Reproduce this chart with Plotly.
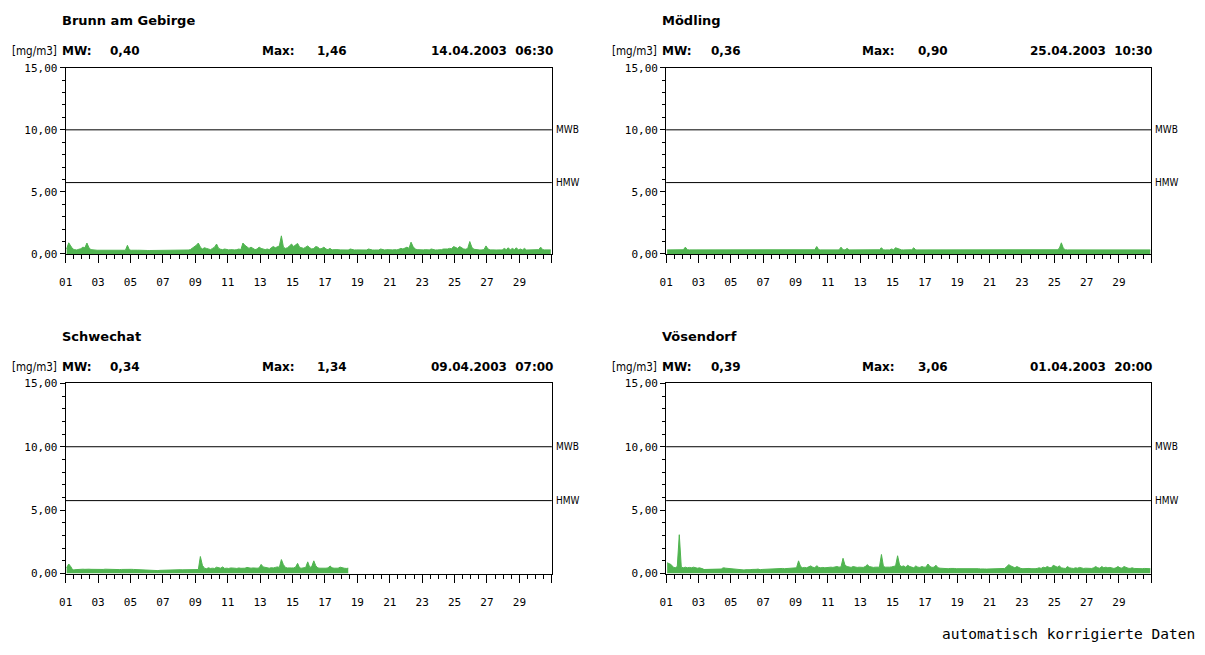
import plotly.graph_objects as go
import pandas as pd

W, H = 1205, 655

# ---------------- data ----------------
stations = ["Brunn am Gebirge", "Mödling", "Schwechat", "Vösendorf"]
mw_text = ["0,40", "0,36", "0,34", "0,39"]
max_text = ["1,46", "0,90", "1,34", "3,06"]
max_time = ["14.04.2003  06:30", "25.04.2003  10:30", "09.04.2003  07:00", "01.04.2003  20:00"]

mwb_level = 10.0
hmw_level = 5.75

y_tickvals = [0, 5, 10, 15]
y_ticktext = ["0,00", "5,00", "10,00", "15,00"]

x_ticklabels = ["01", "03", "05", "07", "09", "11", "13", "15", "17", "19", "21", "23", "25", "27", "29", ""]
x_tickdates = ["2003-04-01", "2003-04-03", "2003-04-05", "2003-04-07", "2003-04-09", "2003-04-11",
               "2003-04-13", "2003-04-15", "2003-04-17", "2003-04-19", "2003-04-21", "2003-04-23",
               "2003-04-25", "2003-04-27", "2003-04-29", "2003-05-01"]

# 3-hourly values (mg/m3), one row per day, April 2003
brunn = [
    0.40, 0.90, 0.65, 0.40, 0.35, 0.32, 0.38, 0.42,
    0.55, 0.50, 0.88, 0.50, 0.35, 0.32, 0.30, 0.30,
    0.30, 0.30, 0.28, 0.30, 0.30, 0.30, 0.30, 0.30,
    0.30, 0.28, 0.30, 0.30, 0.30, 0.30, 0.70, 0.32,
    0.30, 0.28, 0.28, 0.30, 0.30, 0.28, 0.28, 0.30,
    0.28, 0.28, 0.28, 0.30, 0.30, 0.30, 0.28, 0.28,
    0.28, 0.28, 0.28, 0.28, 0.30, 0.30, 0.28, 0.28,
    0.28, 0.28, 0.30, 0.30, 0.32, 0.35, 0.45, 0.55,
    0.70, 0.88, 0.55, 0.40, 0.50, 0.45, 0.40, 0.35,
    0.45, 0.55, 0.80, 0.45, 0.38, 0.35, 0.40, 0.35,
    0.33, 0.35, 0.32, 0.33, 0.35, 0.40, 0.35, 0.88,
    0.70, 0.60, 0.45, 0.55, 0.45, 0.35, 0.40, 0.55,
    0.45, 0.40, 0.35, 0.40, 0.35, 0.50, 0.60, 0.50,
    0.55, 0.65, 1.46, 0.55, 0.45, 0.50, 0.65, 0.80,
    0.60, 0.75, 0.85, 0.55, 0.50, 0.45, 0.55, 0.65,
    0.50, 0.40, 0.45, 0.60, 0.55, 0.40, 0.45, 0.55,
    0.40, 0.35, 0.45, 0.33, 0.35, 0.32, 0.35, 0.33,
    0.32, 0.35, 0.33, 0.32, 0.40, 0.33, 0.32, 0.33,
    0.32, 0.33, 0.35, 0.32, 0.32, 0.40, 0.33, 0.32,
    0.32, 0.33, 0.32, 0.40, 0.33, 0.32, 0.35, 0.33,
    0.32, 0.33, 0.35, 0.33, 0.38, 0.45, 0.40, 0.50,
    0.55, 0.45, 0.95, 0.60, 0.40, 0.35, 0.33, 0.32,
    0.33, 0.35, 0.32, 0.33, 0.40, 0.35, 0.32, 0.33,
    0.32, 0.35, 0.40, 0.38, 0.40, 0.45, 0.42, 0.60,
    0.55, 0.45, 0.60, 0.50, 0.40, 0.38, 0.45, 1.00,
    0.55, 0.38, 0.35, 0.33, 0.32, 0.33, 0.35, 0.65,
    0.40, 0.33, 0.35, 0.33, 0.32, 0.35, 0.33, 0.32,
    0.45, 0.35, 0.50, 0.33, 0.45, 0.35, 0.50, 0.33,
    0.40, 0.33, 0.45, 0.32, 0.33, 0.32, 0.35, 0.33,
    0.33, 0.35, 0.55, 0.35, 0.33, 0.32, 0.35, 0.33,
]

moedling = [
    0.33, 0.33, 0.34, 0.33, 0.33, 0.34, 0.33, 0.33,
    0.34, 0.55, 0.34, 0.33, 0.33, 0.33, 0.33, 0.33,
    0.33, 0.33, 0.33, 0.34, 0.33, 0.33, 0.33, 0.33,
    0.33, 0.33, 0.33, 0.33, 0.33, 0.33, 0.33, 0.33,
    0.33, 0.33, 0.33, 0.33, 0.33, 0.33, 0.33, 0.33,
    0.33, 0.33, 0.33, 0.33, 0.33, 0.33, 0.33, 0.33,
    0.33, 0.33, 0.33, 0.33, 0.33, 0.33, 0.33, 0.33,
    0.33, 0.33, 0.33, 0.33, 0.33, 0.33, 0.33, 0.33,
    0.33, 0.33, 0.38, 0.33, 0.33, 0.33, 0.33, 0.33,
    0.33, 0.34, 0.60, 0.34, 0.33, 0.33, 0.33, 0.33,
    0.33, 0.33, 0.33, 0.33, 0.33, 0.33, 0.55, 0.34,
    0.33, 0.45, 0.33, 0.33, 0.33, 0.33, 0.33, 0.33,
    0.33, 0.33, 0.33, 0.33, 0.33, 0.33, 0.33, 0.33,
    0.33, 0.34, 0.50, 0.33, 0.33, 0.33, 0.33, 0.40,
    0.34, 0.50, 0.45, 0.34, 0.33, 0.33, 0.33, 0.33,
    0.38, 0.34, 0.50, 0.33, 0.33, 0.33, 0.38, 0.33,
    0.33, 0.34, 0.38, 0.33, 0.33, 0.33, 0.33, 0.33,
    0.33, 0.33, 0.33, 0.33, 0.33, 0.33, 0.33, 0.33,
    0.33, 0.33, 0.33, 0.33, 0.33, 0.33, 0.33, 0.33,
    0.33, 0.33, 0.33, 0.33, 0.33, 0.33, 0.33, 0.33,
    0.33, 0.33, 0.33, 0.33, 0.33, 0.33, 0.33, 0.33,
    0.33, 0.33, 0.33, 0.33, 0.33, 0.33, 0.33, 0.33,
    0.33, 0.33, 0.33, 0.33, 0.33, 0.33, 0.33, 0.33,
    0.33, 0.33, 0.33, 0.33, 0.33, 0.33, 0.33, 0.33,
    0.33, 0.34, 0.45, 0.90, 0.45, 0.34, 0.33, 0.33,
    0.33, 0.33, 0.33, 0.33, 0.33, 0.33, 0.33, 0.33,
    0.33, 0.33, 0.33, 0.33, 0.33, 0.33, 0.33, 0.33,
    0.33, 0.33, 0.33, 0.33, 0.38, 0.33, 0.33, 0.33,
    0.33, 0.33, 0.33, 0.33, 0.33, 0.33, 0.33, 0.33,
    0.38, 0.33, 0.33, 0.33, 0.33, 0.33, 0.33, 0.33,
]

schwechat = [
    0.45, 0.75, 0.55, 0.28, 0.30, 0.32, 0.33, 0.34,
    0.34, 0.33, 0.35, 0.34, 0.33, 0.32, 0.34, 0.33,
    0.32, 0.33, 0.32, 0.34, 0.33, 0.32, 0.33, 0.32,
    0.33, 0.32, 0.31, 0.32, 0.33, 0.32, 0.36, 0.34,
    0.33, 0.32, 0.31, 0.30, 0.30, 0.28, 0.27, 0.26,
    0.24, 0.23, 0.23, 0.23, 0.24, 0.23, 0.25, 0.26,
    0.27, 0.26, 0.26, 0.28, 0.29, 0.28, 0.30, 0.29,
    0.30, 0.29, 0.30, 0.31, 0.30, 0.30, 0.31, 0.30,
    0.32, 0.31, 1.34, 0.65, 0.42, 0.38, 0.45, 0.40,
    0.42, 0.40, 0.50, 0.44, 0.42, 0.52, 0.40, 0.42,
    0.40, 0.44, 0.40, 0.42, 0.40, 0.44, 0.41, 0.40,
    0.42, 0.48, 0.44, 0.42, 0.44, 0.41, 0.42, 0.44,
    0.72, 0.52, 0.50, 0.44, 0.42, 0.46, 0.44, 0.48,
    0.52, 0.48, 1.10, 0.70, 0.48, 0.44, 0.42, 0.44,
    0.44, 0.50, 0.80, 0.44, 0.42, 0.44, 0.48, 0.92,
    0.48, 0.55, 1.00, 0.60, 0.44, 0.42, 0.44, 0.42,
    0.42, 0.44, 0.60, 0.45, 0.42, 0.44, 0.42, 0.50,
    0.44, 0.42, 0.40, 0.42, None, None, None, None,
] + [None] * (8 * 12)

voesendorf = [
    0.85, 0.75, 0.70, 0.50, 0.45, 0.55, 3.06, 0.50,
    0.45, 0.50, 0.45, 0.48, 0.45, 0.50, 0.45, 0.42,
    0.45, 0.40, 0.35, None, None, None, None, None,
    None, None, None, 0.40, 0.45, 0.42, 0.40, 0.38,
    0.36, 0.35, 0.33, 0.30, 0.28, 0.30, 0.28, 0.30,
    0.28, 0.30, 0.32, 0.30, 0.33, 0.35, 0.30, 0.32,
    0.33, 0.35, 0.33, 0.38, 0.35, 0.40, 0.35, 0.38,
    0.38, 0.40, 0.38, 0.40, 0.42, 0.40, 0.42, 0.45,
    0.45, 1.00, 0.55, 0.45, 0.48, 0.45, 0.55, 0.60,
    0.50, 0.45, 0.62, 0.48, 0.45, 0.48, 0.45, 0.48,
    0.48, 0.50, 0.48, 0.50, 0.55, 0.50, 0.52, 1.20,
    0.65, 0.55, 0.50, 0.48, 0.55, 0.50, 0.48, 0.50,
    0.50, 0.48, 0.55, 0.70, 0.55, 0.50, 0.48, 0.50,
    0.48, 0.50, 1.50, 0.55, 0.50, 0.48, 0.50, 0.52,
    0.55, 0.60, 1.40, 0.65, 0.55, 0.60, 0.50, 0.65,
    0.55, 0.50, 0.45, 0.60, 0.50, 0.48, 0.55, 0.50,
    0.50, 0.75, 0.55, 0.48, 0.50, 0.65, 0.45, 0.42,
    0.40, 0.42, 0.40, 0.38, 0.40, 0.42, 0.40, 0.38,
    0.38, 0.40, 0.38, 0.40, 0.42, 0.40, 0.38, 0.40,
    0.38, 0.40, 0.38, 0.36, 0.38, 0.36, 0.35, 0.36,
    0.35, 0.36, 0.35, 0.36, 0.38, 0.36, 0.38, 0.40,
    0.55, 0.70, 0.60, 0.50, 0.45, 0.55, 0.45, 0.40,
    0.38, 0.40, 0.38, 0.40, 0.38, 0.36, 0.38, 0.40,
    0.45, 0.40, 0.50, 0.45, 0.55, 0.48, 0.45, 0.65,
    0.55, 0.50, 0.60, 0.45, 0.42, 0.40, 0.55, 0.45,
    0.42, 0.40, 0.45, 0.42, 0.48, 0.42, 0.40, 0.42,
    0.40, 0.42, 0.40, 0.45, 0.55, 0.45, 0.42, 0.55,
    0.45, 0.50, 0.45, 0.48, 0.42, 0.40, 0.45, 0.55,
    0.45, 0.42, 0.55, 0.45, 0.42, 0.40, 0.45, 0.40,
    0.38, 0.42, 0.40, 0.38, 0.40, 0.38, 0.40, 0.38,
]

series = [brunn, moedling, schwechat, voesendorf]
times = pd.date_range("2003-04-01 01:30", periods=240, freq="3h")

# ---------------- layout geometry (pixels) ----------------
GREEN = "rgb(80,180,80)"
TICKFONT = dict(family="DejaVu Sans Mono", size=11, color="black")
BOLD = "DejaVu Sans"

panels = [
    # x0, x1, ytop, ybottom
    (59, 548, 63, 253),
    (663, 1151, 63, 253),
    (59, 548, 385, 579),
    (663, 1151, 385, 579),
]

fig = go.Figure()
annotations = []
shapes = []


def px(x):
    return x / W


def py(y):
    return 1 - y / H


for i, (x0, x1, yt, yb) in enumerate(panels):
    n = i + 1
    xa = "x" if n == 1 else f"x{n}"
    ya = "y" if n == 1 else f"y{n}"
    fig.add_trace(go.Scatter(
        x=times, y=series[i], xaxis=xa, yaxis=ya, mode="lines",
        line=dict(color=GREEN, width=1), fill="tozeroy", fillcolor=GREEN,
        connectgaps=False, showlegend=False, hoverinfo="skip",
    ))
    xkey = "xaxis" if n == 1 else f"xaxis{n}"
    ykey = "yaxis" if n == 1 else f"yaxis{n}"
    fig.layout[xkey] = dict(
        domain=[px(x0), px(x1)], anchor=ya, type="date",
        range=["2003-04-01", "2003-05-01"],
        tickmode="array", tickvals=x_tickdates, ticktext=x_ticklabels,
        ticks="outside", ticklen=8, tickcolor="black", tickwidth=1,
        minor=dict(dtick=12 * 3600 * 1000, tick0="2003-04-01", ticks="outside",
                   ticklen=4, tickcolor="black", showgrid=False),
        showline=True, linecolor="black", linewidth=1, mirror=True,
        showgrid=False, zeroline=False, tickfont=TICKFONT,
        ticklabelstandoff=10, fixedrange=True,
    )
    fig.layout[ykey] = dict(
        domain=[py(yb), py(yt)], anchor=xa, range=[0, 15],
        tickmode="array", tickvals=y_tickvals, ticktext=y_ticktext,
        ticks="outside", ticklen=5, tickcolor="black",
        minor=dict(dtick=1, tick0=0, ticks="outside", ticklen=3, tickcolor="black", showgrid=False),
        showline=True, linecolor="black", linewidth=1, mirror=True,
        showgrid=False, zeroline=False, tickfont=TICKFONT, ticklabelstandoff=0,
        fixedrange=True,
    )
    for lvl, lab in ((mwb_level, "MWB"), (hmw_level, "HMW")):
        shapes.append(dict(type="line", xref=f"{xa} domain", yref=ya, x0=0, x1=1,
                           y0=lvl, y1=lvl, line=dict(color="black", width=1)))
        annotations.append(dict(xref=f"{xa} domain", yref=ya, x=1, y=lvl, xanchor="left",
                                yanchor="middle", xshift=2, text=lab, showarrow=False,
                                font=dict(family="DejaVu Sans Condensed", size=10, color="black")))
    # title + header row
    ty = yt - 48
    hy = yt - 17
    annotations.append(dict(xref="paper", yref="paper", x=px(x0 - 6), y=py(ty), xanchor="left",
                            yanchor="middle", text=f"<b>{stations[i]}</b>", showarrow=False,
                            font=dict(family=BOLD, size=13, color="black")))
    annotations.append(dict(xref="paper", yref="paper", x=px(x0 - 7), y=py(hy), xanchor="right",
                            yanchor="middle", text="[mg/m3]", showarrow=False,
                            font=dict(family="DejaVu Sans Condensed", size=11.5, color="black")))
    for dx, txt, anc in ((-6, "MW:", "left"), (43, mw_text[i], "left"), (195, "Max:", "left"),
                         (251, max_text[i], "left"), (x1 - x0 + 3, max_time[i], "right")):
        annotations.append(dict(xref="paper", yref="paper", x=px(x0 + dx), y=py(hy), xanchor=anc,
                                yanchor="middle", text=f"<b>{txt}</b>", showarrow=False,
                                font=dict(family=BOLD, size=12, color="black")))

annotations.append(dict(xref="paper", yref="paper", x=px(1197), y=py(641), xanchor="right",
                        yanchor="middle", text="automatisch korrigierte Daten", showarrow=False,
                        font=dict(family="DejaVu Sans Mono", size=14.5, color="black")))

fig.update_layout(
    width=W, height=H, autosize=False,
    margin=dict(l=0, r=0, t=0, b=0),
    paper_bgcolor="white", plot_bgcolor="white",
    annotations=annotations, shapes=shapes, showlegend=False,
)

fig.write_html("out.html")
